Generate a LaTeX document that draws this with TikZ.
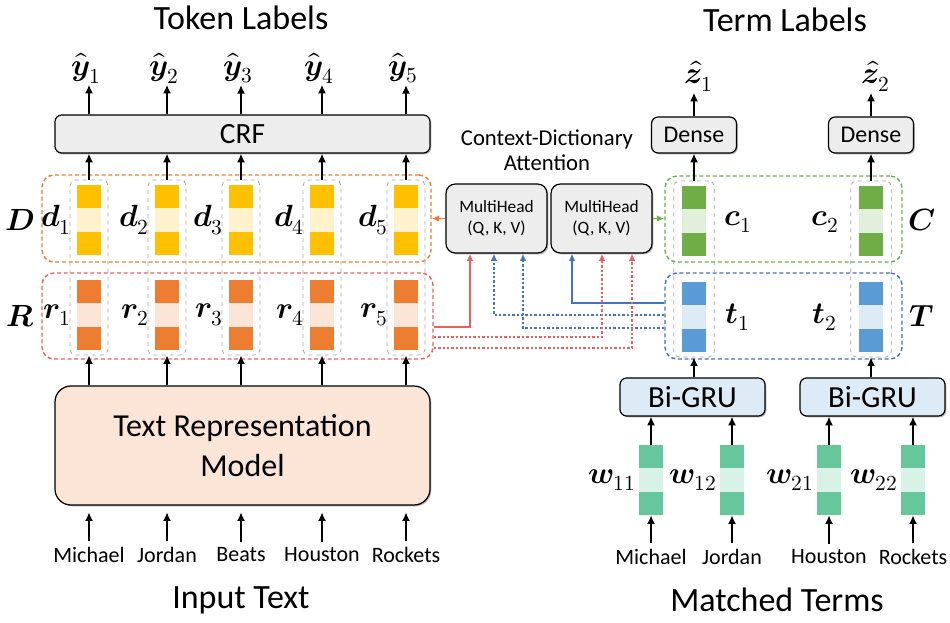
\documentclass[tikz,border=0pt]{standalone}
\usepackage{amsmath}
\usepackage{fontspec}
\usepackage{unicode-math}
\setmainfont{Carlito}
\setmathfont{Latin Modern Math}
\usepackage{tikz}
\usetikzlibrary{fit, positioning, arrows, arrows.meta, backgrounds, shapes, shadows}

\definecolor{cyel}{HTML}{FFC000}
\definecolor{cyell}{HTML}{FFF2CC}
\definecolor{corg}{HTML}{ED7D31}
\definecolor{corgl}{HTML}{FBE5D6}
\definecolor{cgrn}{HTML}{70AD47}
\definecolor{cgrnl}{HTML}{E2EFDA}
\definecolor{cblu}{HTML}{5B9BD5}
\definecolor{cblul}{HTML}{DDEBF7}
\definecolor{cmint}{HTML}{66C79C}
\definecolor{cmintl}{HTML}{D9F2E7}
\definecolor{cred}{HTML}{EB5F5F}
\definecolor{cline}{HTML}{4472C4}
\definecolor{cbox}{HTML}{EDEDED}

\tikzset{vec/.style 2 args={rectangle, inner sep=0pt, minimum width=18pt, minimum height=52.5pt, fill=#2,
	path picture={
		\fill[#1] (path picture bounding box.north west) rectangle ([yshift=-17.5pt]path picture bounding box.north east);
		\fill[#1] (path picture bounding box.south west) rectangle ([yshift=17.5pt]path picture bounding box.south east);
	}}}

\begin{document}
\begin{tikzpicture}[x=0.75pt, y=-0.75pt, >={Latex[length=6.5pt,width=6pt]}, font={\fontsize{16.5}{18}\selectfont}]
	\tikzstyle{title} = [font={\fontsize{25.5}{28}\selectfont}];
	\tikzstyle{lbl} = [font={\fontsize{23}{26}\selectfont}, inner sep=1pt];
	\tikzstyle{box} = [draw, rounded corners=5pt, line width=0.9pt, fill=cbox, drop shadow={shadow xshift=1pt, shadow yshift=-1pt, fill=black!60}];
	\tikzstyle{grp} = [draw, rounded corners=9pt, line width=1.1pt, dash pattern=on 3pt off 2pt];
	\tikzstyle{col} = [draw=black!35, dashed, rounded corners=4pt, line width=0.6pt, inner xsep=5pt, inner ysep=3.5pt];
	\tikzstyle{arr} = [->, line width=1.5pt];
	\tikzstyle{link} = [-{Latex[length=5.5pt,width=5pt]}, line width=1.5pt];
	\tikzstyle{dots} = [-{Latex[length=5.5pt,width=5pt]}, line width=1.5pt, dash pattern=on 1.8pt off 1.5pt];

	\useasboundingbox (0,0) rectangle (950,623);

	% token side
	\node[title] (tl) at (241,18) {Token Labels};
	\node[title] (it) at (241,600) {Input Text};
	\node[box, minimum width=281.25pt, minimum height=28.5pt, font={\fontsize{22}{24}\selectfont}] (crf) at (242.5,134) {CRF};
	\node[box, fill=corgl, rounded corners=12pt, minimum width=281.25pt, minimum height=89.25pt, align=center, font={\fontsize{24}{30}\selectfont}] (trm) at (242.5,445.5) {Text Representation\\Model};
	\node[grp, draw=corg, minimum width=291.75pt, minimum height=65.25pt] (dgrp) at (236.5,218.5) {};
	\node[grp, draw=cred, minimum width=293.25pt, minimum height=64.5pt] (rgrp) at (237.5,316) {};
	\node[lbl] (dl) at (20,220) {$\symbfit{D}$};
	\node[lbl] (rl) at (20,316) {$\symbfit{R}$};

	\foreach \xv/\tok [count=\xi] in {89/Michael,167/Jordan,241/Beats,322/Houston,406/Rockets} {
		\node[vec={cyel}{cyell}] (d\xi) at (\xv,220) {};
		\node[vec={corg}{corgl}] (r\xi) at (\xv,315) {};
		\node[col, fit=(d\xi)(r\xi)] (c\xi) {};
		\node[lbl, left=3pt of d\xi] {$\symbfit{d}_{\xi}$};
		\node[lbl, left=3pt of r\xi] {$\symbfit{r}_{\xi}$};
		\node[lbl] (y\xi) at (\xv-3,68) {$\widehat{\symbfit{y}}_{\xi}$};
		\node (w\xi) at (\xv,555) {\tok};
		\draw[arr] (crf.north -| c\xi) -- (y\xi.south -| c\xi);
		\draw[arr] (c\xi.north) -- (crf.south -| c\xi);
		\draw[arr] (trm.north -| c\xi) -- (c\xi.south);
		\draw[arr, shorten <=1pt, shorten >=5pt] (w\xi.north) -- (trm.south -| w\xi);
	}

	% attention
	\node[align=center, font={\fontsize{17}{19}\selectfont}] (cda) at (547,150) {Context-Dictionary\\Attention};
	\node[box, rounded corners=7pt, minimum width=75.75pt, minimum height=51.75pt, align=center, font={\fontsize{13}{16}\selectfont}] (mh1) at (496.5,218.5) {MultiHead\\(Q, K, V)};
	\node[box, rounded corners=7pt, minimum width=75.75pt, minimum height=51.75pt, align=center, font={\fontsize{13}{16}\selectfont}] (mh2) at (601.5,218.5) {MultiHead\\(Q, K, V)};

	% term side
	\node[title] (tml) at (785,20) {Term Labels};
	\node[title] (mt) at (777,600) {Matched Terms};
	\node[grp, draw=cgrn, minimum width=177.75pt, minimum height=64.5pt] (cgrp) at (783.5,219) {};
	\node[grp, draw=cline, minimum width=177.75pt, minimum height=64.5pt] (tgrp) at (783.5,316) {};
	\node[lbl] (cl1) at (738,222) {$\symbfit{c}_1$};
	\node[lbl] (cl2) at (825,222) {$\symbfit{c}_2$};
	\node[lbl] (cl) at (922,220) {$\symbfit{C}$};
	\node[lbl] (tl1) at (738,317) {$\symbfit{t}_1$};
	\node[lbl] (tl2) at (825,317) {$\symbfit{t}_2$};
	\node[lbl] (tlT) at (922,316) {$\symbfit{T}$};

	\foreach \xv/\gv [count=\xi] in {694/692.5,871/872.5} {
		\node[vec={cgrn}{cgrnl}] (cv\xi) at (\xv,221) {};
		\node[vec={cblu}{cblul}] (tv\xi) at (\xv,317) {};
		\node[col, inner xsep=6pt, fit=(cv\xi)(tv\xi)] (tc\xi) {};
		\node[box, minimum width=63.75pt, minimum height=27pt, font={\fontsize{18}{20}\selectfont}] (dense\xi) at (\xv,135) {Dense};
		\node[lbl] (z\xi) at (\xv+5,76) {$\hat{\symbfit{z}}_{\xi}$};
		\node[box, fill=cblul, minimum width=108.75pt, minimum height=28.5pt, font={\fontsize{23}{25}\selectfont}] (gru\xi) at (\gv,397) {Bi-GRU};
		\draw[arr] (tc\xi.north) -- (dense\xi.south -| tc\xi);
		\draw[arr] (dense\xi.north -| tc\xi) -- (z\xi.south -| tc\xi);
		\draw[arr] (gru\xi.north -| tc\xi) -- (tc\xi.south);
	}

	\foreach \xv/\tok/\gi/\sb [count=\xi] in {651/Michael/1/11,732/Jordan/1/12,829/Houston/2/21,913/Rockets/2/22} {
		\node[vec={cmint}{cmintl}] (wv\xi) at (\xv,480) {};
		\node[lbl, left=1pt of wv\xi] {$\symbfit{w}_{\sb}$};
		\node (mw\xi) at (\xv,557) {\tok};
		\draw[arr, shorten <=1pt] (mw\xi.north) -- (wv\xi.south);
		\draw[arr] (wv\xi.north) -- (gru\gi.south -| wv\xi);
	}

	\draw[link, corg, line width=1.2pt] (mh1.west) -- (mh1.west -| dgrp.east);
	\draw[link, cgrn, line width=1.2pt] (mh2.east) -- (mh2.east -| cgrp.west);
	\draw[link, cred] ([yshift=-8.25pt]rgrp.east) -| ([xshift=-19.9pt]mh1.south);
	\draw[dots, cline] ([yshift=0.75pt]tgrp.west) -| ([xshift=-1.9pt]mh1.south);
	\draw[dots, cline] ([yshift=-9pt]tgrp.west) -| ([xshift=19.9pt]mh1.south);
	\draw[link, cline] ([yshift=9.75pt]tgrp.west) -| ([xshift=-22.1pt]mh2.south);
	\draw[dots, cred] ([yshift=-15.75pt]rgrp.east) -| ([xshift=0.4pt]mh2.south);
	\draw[dots, cred] ([yshift=-24pt]rgrp.east) -| ([xshift=22.9pt]mh2.south);
\end{tikzpicture}
\end{document}
